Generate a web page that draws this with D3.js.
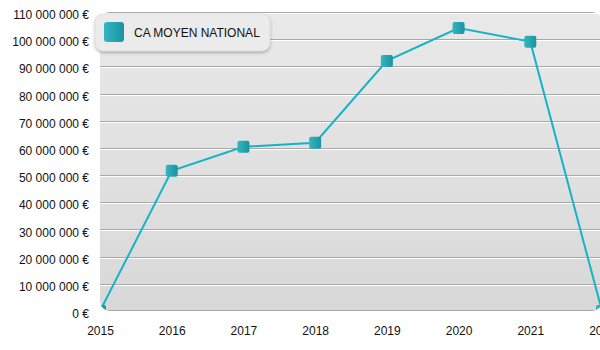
<!DOCTYPE html>
<html>
<head>
<meta charset="utf-8">
<script src="https://cdn.jsdelivr.net/npm/d3@7"></script>
<style>
  html, body { margin: 0; padding: 0; background: #fff; }
  svg { display: block; font-family: "Liberation Sans", Arial, sans-serif; }
</style>
</head>
<body>
<svg id="chart" width="600" height="350"></svg>
<script>
// Average national turnover per year
const years = ["2015", "2016", "2017", "2018", "2019", "2020", "2021", "2022"];
const caMoyen = [0, 51600000, 60400000, 61900000, 92000000, 104100000, 99100000, 0];
const yTicks = [0, 10000000, 20000000, 30000000, 40000000, 50000000, 60000000,
                70000000, 80000000, 90000000, 100000000, 110000000];
const seriesName = "CA MOYEN NATIONAL";

const svg = d3.select("#chart");
const margin = { left: 100, top: 12, right: -2, bottom: 39 };
const W = 600, H = 350;
const pw = W - margin.left - margin.right;
const ph = H - margin.top - margin.bottom;

const x = d3.scalePoint().domain(years).range([0, pw]);
const y = d3.scaleLinear().domain([0, 110000000]).range([ph, 0]);

const fr = d3.formatLocale({ decimal: ",", thousands: " ", grouping: [3], currency: ["", " €"] });
const fmt = v => fr.format(",.0f")(v) + " €";

const defs = svg.append("defs");
const bg = defs.append("linearGradient").attr("id", "bg").attr("x1", 0).attr("y1", 0).attr("x2", 0).attr("y2", 1);
bg.append("stop").attr("offset", "0%").attr("stop-color", "#e9e9e9");
bg.append("stop").attr("offset", "100%").attr("stop-color", "#d8d8d8");

const mk = defs.append("linearGradient").attr("id", "mk").attr("x1", 0).attr("y1", 0).attr("x2", 1).attr("y2", 0);
mk.append("stop").attr("offset", "0%").attr("stop-color", "#35b6c0");
mk.append("stop").attr("offset", "100%").attr("stop-color", "#1794a2");

const sh = defs.append("filter").attr("id", "sh").attr("x", "-20%").attr("y", "-20%").attr("width", "140%").attr("height", "160%");
sh.append("feDropShadow").attr("dx", 0).attr("dy", 1.5).attr("stdDeviation", 1.5).attr("flood-color", "#000").attr("flood-opacity", 0.3);

defs.append("clipPath").attr("id", "plotClip")
  .append("rect").attr("width", pw).attr("height", ph).attr("rx", 10).attr("ry", 10);

const g = svg.append("g").attr("transform", `translate(${margin.left},${margin.top})`);

// plot panel
g.append("rect").attr("width", pw).attr("height", ph).attr("rx", 10).attr("ry", 10)
  .attr("fill", "url(#bg)");

const inner = g.append("g").attr("clip-path", "url(#plotClip)");

// embossed grid lines
const grid = yTicks.filter(t => t > 0);
inner.selectAll("line.gd").data(grid).join("line").attr("class", "gd")
  .attr("x1", 0).attr("x2", pw).attr("y1", d => Math.round(y(d)) + 0.5).attr("y2", d => Math.round(y(d)) + 0.5)
  .attr("stroke", "#a8a8a8").attr("stroke-width", 1);
inner.selectAll("line.gl").data(grid).join("line").attr("class", "gl")
  .attr("x1", 0).attr("x2", pw).attr("y1", d => Math.round(y(d)) + 1.5).attr("y2", d => Math.round(y(d)) + 1.5)
  .attr("stroke", "#ffffff").attr("stroke-width", 1);
// bottom edge line
inner.append("line").attr("x1", 0).attr("x2", pw).attr("y1", ph - 0.5).attr("y2", ph - 0.5)
  .attr("stroke", "#a8a8a8");

// series line
const pts = years.map((yr, i) => [x(yr), y(caMoyen[i])]);
inner.append("path").attr("d", d3.line()(pts))
  .attr("fill", "none").attr("stroke", "#16b3c6").attr("stroke-width", 2);

// markers
inner.selectAll("rect.m").data(pts).join("rect").attr("class", "m")
  .attr("x", d => d[0] - 6).attr("y", d => d[1] - 6).attr("width", 12).attr("height", 12)
  .attr("rx", 2).attr("fill", "url(#mk)");

// y axis labels
const yAxis = d3.axisLeft(y).tickValues(yTicks).tickFormat(fmt).tickSize(0).tickPadding(11);
const ya = g.append("g").call(yAxis);
ya.select(".domain").remove();
ya.selectAll("text").attr("font-size", 12).attr("fill", "#111").attr("dy", "0.55em")
  .attr("font-family", "Liberation Sans, Arial, sans-serif");

// x axis labels
const xAxis = d3.axisBottom(x).tickSize(0).tickPadding(15);
const xa = g.append("g").attr("transform", `translate(0,${ph})`).call(xAxis);
xa.select(".domain").remove();
xa.selectAll("text").attr("font-size", 12).attr("fill", "#111").attr("font-family", "Liberation Sans, Arial, sans-serif");

// legend
const lg = svg.append("g").attr("transform", "translate(95,14)");
lg.append("rect").attr("width", 175).attr("height", 37).attr("rx", 8).attr("ry", 8)
  .attr("fill", "#ebebeb").attr("stroke", "#d0d0d0").attr("stroke-width", 0.5).attr("filter", "url(#sh)");
lg.append("rect").attr("x", 9).attr("y", 8).attr("width", 20).attr("height", 20).attr("rx", 3)
  .attr("fill", "url(#mk)");
lg.append("text").attr("x", 39).attr("y", 19).attr("dy", "0.35em")
  .attr("font-size", 12).attr("fill", "#111").text(seriesName);
</script>
</body>
</html>
